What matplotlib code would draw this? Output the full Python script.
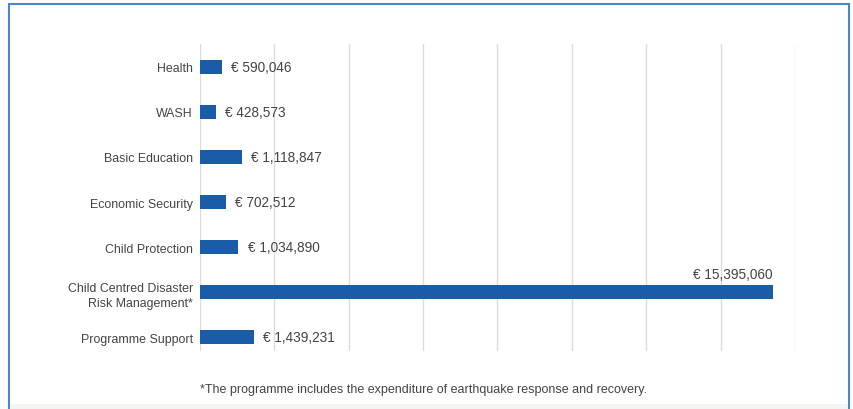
import matplotlib.pyplot as plt
from matplotlib.patches import Rectangle

# expenditure by programme area (EUR)
categories = ['Health', 'WASH', 'Basic Education', 'Economic Security',
              'Child Protection', 'Child Centred Disaster\nRisk Management*',
              'Programme Support']
amounts = [590046, 428573, 1118847, 702512, 1034890, 15395060, 1439231]
grid_ticks = [0, 2e6, 4e6, 6e6, 8e6, 10e6, 12e6, 14e6, 16e6]
footnote = '*The programme includes the expenditure of earthquake response and recovery.'

plt.rcParams['font.family'] = ['Liberation Sans', 'DejaVu Sans']

bar_col = '#1a5ca8'
txt_col = '#444444'

fig = plt.figure(figsize=(8.54, 4.10), dpi=100)
ax = fig.add_axes([200/854, 1 - 352/410, 595/854, 307/410])

ypos = list(range(len(categories)))
ax.barh(ypos, amounts, height=0.31, color=bar_col, zorder=3)

for i, v in enumerate(amounts):
    lbl = '€ {:,}'.format(v)
    if v == max(amounts):
        ax.annotate(lbl, (v, i), xytext=(0, 13), textcoords='offset points',
                    ha='right', va='center', fontsize=9.8, color=txt_col)
    else:
        ax.annotate(lbl, (v, i), xytext=(6.5, 0), textcoords='offset points',
                    ha='left', va='center', fontsize=9.8, color=txt_col)

ax.set_xlim(0, 16e6)
ax.set_ylim(6.31, -0.51)
ax.set_xticks(grid_ticks)
ax.set_xticklabels([])
ax.set_yticks(ypos)
ax.set_yticklabels(categories, fontsize=8.9, color=txt_col, ha='right',
                   linespacing=1.35)
ax.tick_params(length=0, pad=5)
ax.xaxis.grid(True, color='#dcdcdc', linewidth=1, zorder=0)
for s in ax.spines.values():
    s.set_visible(False)

fig.text(200/854, 1 - 390/410, footnote, fontsize=9.0, color=txt_col, va='center')

# blue frame around the chart, open at the bottom
fig.patches.append(Rectangle((9/854, -0.05), 840/854, 1.05 - 5/410,
                             transform=fig.transFigure, fill=False,
                             edgecolor='#4a86c8', linewidth=1.5))
fig.patches.append(Rectangle((10/854, 0), 838/854, 5/410,
                             transform=fig.transFigure, facecolor='#f3f5f1',
                             edgecolor='none'))

fig.savefig('out.png', dpi=100)
